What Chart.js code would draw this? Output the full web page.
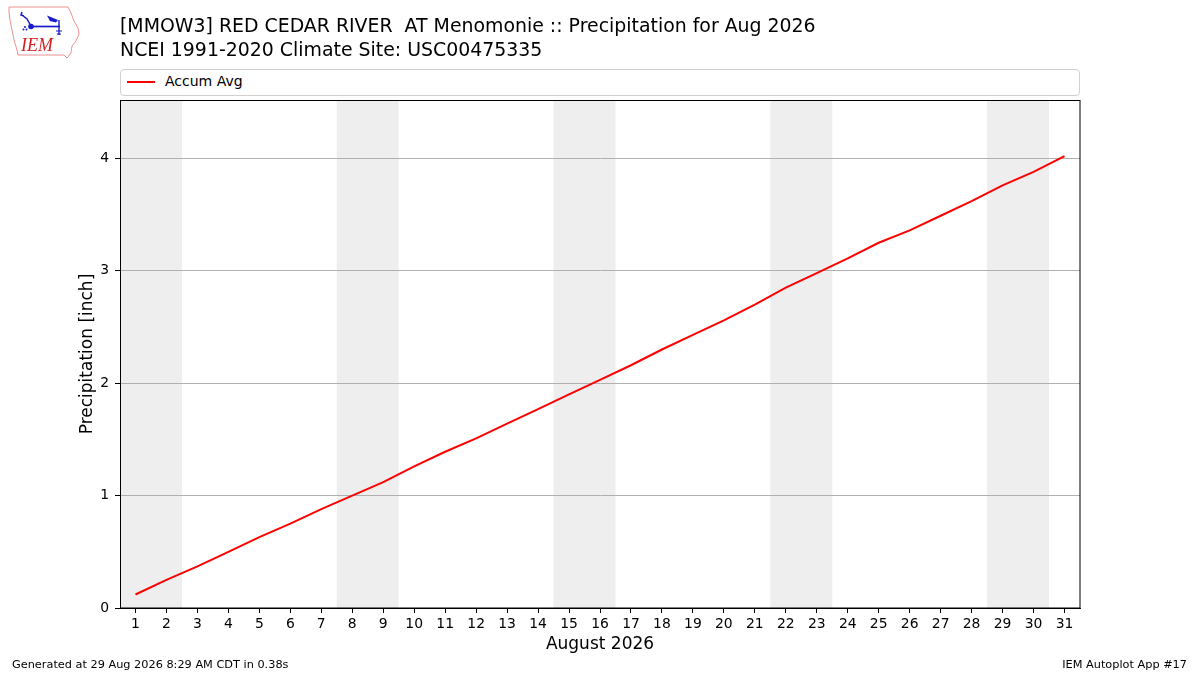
<!DOCTYPE html>
<html>
<head>
<meta charset="utf-8">
<script src="https://cdn.jsdelivr.net/npm/chart.js@4/dist/chart.umd.min.js"></script>
<style>
  html, body { margin: 0; padding: 0; background: #fff; }
  body { width: 1200px; height: 675px; position: relative; overflow: hidden; font-family: "DejaVu Sans", sans-serif; }
  #chartWrap { position: absolute; left: 0; top: 0; width: 1200px; height: 675px; }
  .title { position: absolute; left: 120px; font-size: 18.9px; white-space: pre; color: #000; line-height: 24px; }
  .legend { position: absolute; left: 120px; top: 69px; width: 958px; height: 25px; border: 1px solid #d0d0d0; border-radius: 4px; background: #fff; }
  .legend .sw { position: absolute; left: 6px; top: 11px; width: 28px; height: 2px; background: #ff0000; }
  .legend .lt { position: absolute; left: 44px; top: 2px; font-size: 14px; line-height: 18px; }
  .foot { position: absolute; font-size: 11.3px; top: 658px; line-height: 14px; white-space: pre; }
  #logo { position: absolute; left: 0; top: 0; }
</style>
</head>
<body>
<div id="chartWrap"><canvas id="c" width="1200" height="675"></canvas></div>
<svg id="logo" width="90" height="65" viewBox="0 0 90 65">
  <path d="M9,7 L68,7 L71,13 L74,21 L78,28 L79,34 L76,41 L72,46 L71,53 L67,58 L64,55 L18,55 L17,50 L14,40 L12,30 L10,20 L9,12 Z" fill="#fff" stroke="#ec9090" stroke-width="1"/>
  <path d="M22,12 L21,15 L24,16 M22,15 L27,19 L31,26" fill="none" stroke="#1a1acc" stroke-width="1.5"/>
  <line x1="31" y1="26.5" x2="60" y2="26.5" stroke="#1a1acc" stroke-width="1.7"/>
  <circle cx="31" cy="26.5" r="2.8" fill="#1a1acc"/>
  <path d="M47,15.5 L58,20 L56,22.5 L50,21 Z" fill="#1a1acc"/>
  <line x1="59" y1="20" x2="59" y2="35" stroke="#1a1acc" stroke-width="1.4"/>
  <path d="M56,31 L62,31 M57,34 L61,34" stroke="#1a1acc" stroke-width="1.2"/>
  <circle cx="25" cy="27" r="1" fill="#1a1acc"/><circle cx="23.5" cy="29.5" r="1" fill="#1a1acc"/><circle cx="26.5" cy="29.5" r="1" fill="#1a1acc"/>
  <text x="21" y="51" font-family="'Liberation Serif', serif" font-style="italic" font-size="18" fill="#d42020">IEM</text>
</svg>
<div class="title" style="top:13px;">[MMOW3] RED CEDAR RIVER  AT Menomonie :: Precipitation for Aug 2026</div>
<div class="title" style="top:37px;">NCEI 1991-2020 Climate Site: USC00475335</div>
<div class="legend"><div class="sw"></div><div class="lt">Accum Avg</div></div>
<div class="foot" style="left:12px;">Generated at 29 Aug 2026 8:29 AM CDT in 0.38s</div>
<div class="foot" style="right:13px;">IEM Autoplot App #17</div>
<script>
// ---- data ----
const days = [1,2,3,4,5,6,7,8,9,10,11,12,13,14,15,16,17,18,19,20,21,22,23,24,25,26,27,28,29,30,31];
const accumAvg = [0.12,0.25,0.37,0.50,0.63,0.75,0.88,1.00,1.12,1.26,1.39,1.51,1.64,1.77,1.90,2.03,2.16,2.30,2.43,2.56,2.70,2.85,2.98,3.11,3.25,3.36,3.49,3.62,3.76,3.88,4.02];
const weekends = [[1,2],[8,9],[15,16],[22,23],[29,30]];
const yTicks = [0,1,2,3,4];
const xLabel = "August 2026";
const yLabel = "Precipitation [inch]";
const seriesName = "Accum Avg";

const shadePlugin = {
  id: 'shade',
  beforeDraw(chart) {
    const {ctx, chartArea, scales} = chart;
    ctx.save();
    ctx.fillStyle = '#eeeeee';
    weekends.forEach(([a, b]) => {
      const x0 = Math.max(scales.x.getPixelForValue(a - 0.5), chartArea.left);
      const x1 = Math.min(scales.x.getPixelForValue(b + 0.5), chartArea.right);
      ctx.fillRect(x0, chartArea.top, x1 - x0, chartArea.bottom - chartArea.top);
    });
    ctx.restore();
  },
  afterDraw(chart) {
    const {ctx, chartArea} = chart;
    ctx.save();
    ctx.strokeStyle = '#000';
    ctx.lineWidth = 1;
    ctx.strokeRect(chartArea.left + 0.5, chartArea.top + 0.5, chartArea.right - chartArea.left - 0.5, chartArea.bottom - chartArea.top - 0.5);
    ctx.restore();
  }
};

new Chart(document.getElementById('c'), {
  type: 'line',
  data: {
    datasets: [{
      label: seriesName,
      data: days.map((d, i) => ({x: d, y: accumAvg[i]})),
      borderColor: '#ff0000',
      backgroundColor: '#ff0000',
      borderWidth: 2,
      pointRadius: 0,
      tension: 0,
      fill: false
    }]
  },
  options: {
    responsive: false,
    animation: false,
    devicePixelRatio: 1,
    layout: { padding: { left: 0, right: 120, top: 100, bottom: 0 } },
    plugins: { legend: { display: false }, title: { display: false }, tooltip: { enabled: false } },
    scales: {
      x: {
        type: 'linear',
        min: 0.5,
        max: 31.5,
        afterBuildTicks(scale) { scale.ticks = days.map(v => ({value: v})); },
        afterFit(scale) { scale.height = 67; },
        grid: { drawOnChartArea: false, drawTicks: true, tickLength: 5, tickColor: '#000', color: '#000' },
        border: { display: true, color: '#000', width: 1 },
        ticks: { color: '#000', font: { family: 'DejaVu Sans', size: 13.9 }, padding: 3, maxRotation: 0, autoSkip: false },
        title: { display: true, text: xLabel, color: '#000', font: { family: 'DejaVu Sans', size: 17 }, padding: { top: 20, bottom: 20 } }
      },
      y: {
        type: 'linear',
        min: 0,
        max: 4.52,
        afterBuildTicks(scale) { scale.ticks = yTicks.map(v => ({value: v})); },
        afterFit(scale) { scale.width = 120; },
        grid: { drawOnChartArea: true, color: '#b0b0b0', lineWidth: 1, drawTicks: true, tickLength: 5, tickColor: '#000' },
        border: { display: true, color: '#000', width: 1 },
        ticks: { color: '#000', font: { family: 'DejaVu Sans', size: 13.9 }, padding: 6 },
        title: { display: true, text: yLabel, color: '#000', font: { family: 'DejaVu Sans', size: 17 }, padding: { top: 77, bottom: 77 } }
      }
    }
  },
  plugins: [shadePlugin]
});
</script>
</body>
</html>
